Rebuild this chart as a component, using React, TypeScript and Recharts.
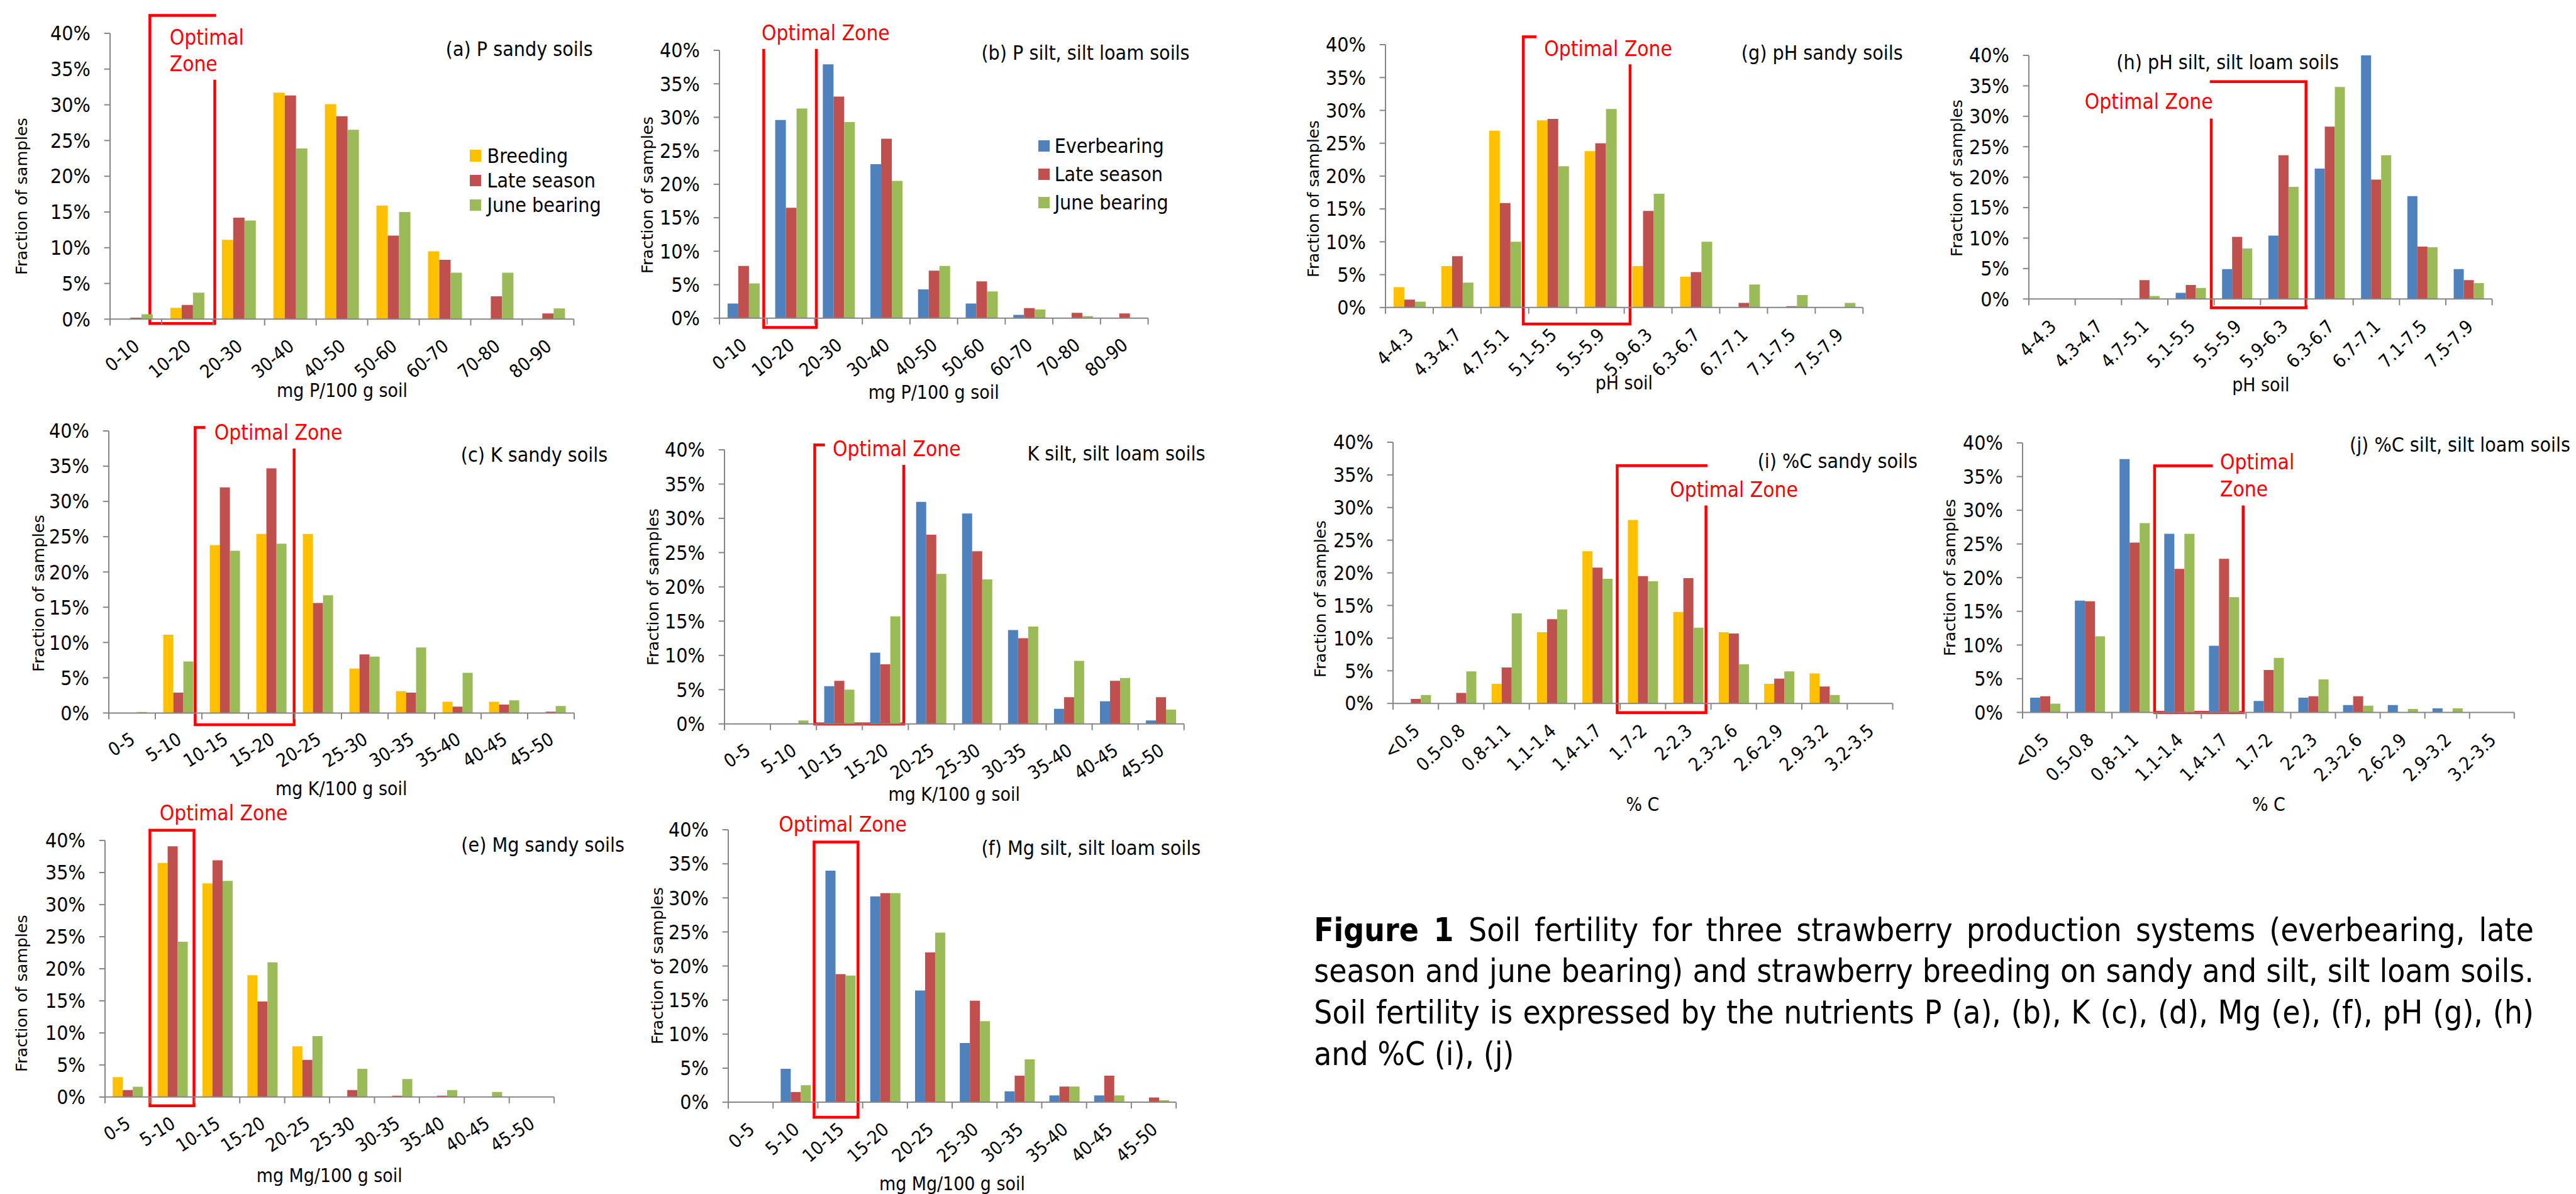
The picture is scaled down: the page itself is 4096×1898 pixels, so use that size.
import React from 'react';
import { BarChart, Bar, XAxis, YAxis, ReferenceArea, Legend } from 'recharts';

// reference is 6166 px wide, window is 4096
const k = 4096 / 6166;

const FONT = "'Liberation Sans Narrow', 'DejaVu Sans Condensed', 'Arial Narrow', sans-serif";
const LABEL_FONT = "'DejaVu Sans', Verdana, sans-serif";
const YELLOW = '#FFC000';
const RED = '#C0504D';
const GREEN = '#9BBB59';
const BLUE = '#4F81BD';
const AXIS = '#868686';
const ZONE = '#FF0000';

const yTicks = [0, 5, 10, 15, 20, 25, 30, 35, 40];
const pCats = ['0-10', '10-20', '20-30', '30-40', '40-50', '50-60', '60-70', '70-80', '80-90'];
const kCats = ['0-5', '5-10', '10-15', '15-20', '20-25', '25-30', '30-35', '35-40', '40-45', '45-50'];
const phCats = ['4-4.3', '4.3-4.7', '4.7-5.1', '5.1-5.5', '5.5-5.9', '5.9-6.3', '6.3-6.7', '6.7-7.1', '7.1-7.5', '7.5-7.9'];
const cCats = ['<0.5', '0.5-0.8', '0.8-1.1', '1.1-1.4', '1.4-1.7', '1.7-2', '2-2.3', '2.3-2.6', '2.6-2.9', '2.9-3.2', '3.2-3.5'];

// values in % of samples
const aBreeding = [0, 1.6, 11.1, 31.7, 30.1, 15.9, 9.5, 0, 0];
const aLate = [0.2, 2.0, 14.2, 31.3, 28.4, 11.7, 8.3, 3.2, 0.8];
const aJune = [0.7, 3.7, 13.8, 23.9, 26.5, 15.0, 6.5, 6.5, 1.5];

const bEver = [2.2, 29.6, 37.9, 23.0, 4.3, 2.2, 0.5, 0, 0];
const bLate = [7.8, 16.5, 33.1, 26.8, 7.1, 5.5, 1.5, 0.8, 0.7];
const bJune = [5.2, 31.3, 29.3, 20.5, 7.8, 4.0, 1.3, 0.3, 0];

const cBreeding = [0, 11.1, 23.8, 25.4, 25.4, 6.3, 3.1, 1.6, 1.6, 0];
const cLate = [0, 2.9, 32.0, 34.7, 15.6, 8.3, 2.9, 0.9, 1.2, 0.2];
const cJune = [0.15, 7.3, 23.0, 24.0, 16.7, 8.0, 9.3, 5.7, 1.8, 1.0];

const dEver = [0, 0, 5.5, 10.4, 32.4, 30.7, 13.7, 2.2, 3.3, 0.5];
const dLate = [0, 0, 6.3, 8.7, 27.6, 25.2, 12.5, 3.9, 6.3, 3.9];
const dJune = [0, 0.5, 5.0, 15.7, 21.9, 21.1, 14.2, 9.2, 6.7, 2.1];

const eBreeding = [3.1, 36.5, 33.3, 19.0, 7.9, 0, 0, 0, 0, 0];
const eLate = [1.1, 39.1, 36.9, 14.9, 5.8, 1.1, 0.2, 0.2, 0, 0];
const eJune = [1.6, 24.2, 33.7, 21.0, 9.5, 4.4, 2.8, 1.1, 0.8, 0];

const fEver = [0, 4.9, 34.0, 30.2, 16.4, 8.7, 1.6, 1.0, 1.0, 0];
const fLate = [0, 1.5, 18.8, 30.7, 22.0, 14.9, 3.9, 2.3, 3.9, 0.7];
const fJune = [0, 2.5, 18.6, 30.7, 24.9, 11.9, 6.3, 2.3, 1.0, 0.3];

const gBreeding = [3.1, 6.3, 26.9, 28.5, 23.8, 6.3, 4.7, 0, 0, 0];
const gLate = [1.2, 7.8, 15.9, 28.7, 25.0, 14.7, 5.4, 0.7, 0.2, 0];
const gJune = [0.9, 3.8, 10.0, 21.5, 30.2, 17.3, 10.0, 3.5, 1.9, 0.7];

const hEver = [0, 0, 0, 1.0, 4.9, 10.4, 21.4, 40, 16.9, 4.9];
const hLate = [0, 0, 3.1, 2.3, 10.2, 23.6, 28.3, 19.6, 8.6, 3.1];
const hJune = [0, 0, 0.5, 1.8, 8.3, 18.4, 34.8, 23.6, 8.5, 2.6];

const iBreeding = [0, 0, 3.0, 10.9, 23.3, 28.1, 14.0, 10.9, 3.0, 4.6, 0];
const iLate = [0.7, 1.6, 5.5, 12.9, 20.8, 19.5, 19.2, 10.7, 3.8, 2.6, 0];
const iJune = [1.3, 4.9, 13.8, 14.4, 19.1, 18.7, 11.6, 6.0, 4.9, 1.3, 0];

const jEver = [2.2, 16.6, 37.6, 26.5, 9.9, 1.7, 2.2, 1.1, 1.1, 0.6, 0];
const jLate = [2.4, 16.5, 25.2, 21.3, 22.8, 6.3, 2.4, 2.4, 0, 0, 0];
const jJune = [1.3, 11.3, 28.1, 26.5, 17.1, 8.1, 4.9, 1.0, 0.5, 0.6, 0];

const sandy = (b, l, j) => [
  { name: 'Breeding', color: YELLOW, values: b },
  { name: 'Late season', color: RED, values: l },
  { name: 'June bearing', color: GREEN, values: j },
];
const silt = (e, l, j) => [
  { name: 'Everbearing', color: BLUE, values: e },
  { name: 'Late season', color: RED, values: l },
  { name: 'June bearing', color: GREEN, values: j },
];

// layout numbers below are in reference pixels
const panels = [
  {
    id: 'a', plot: { x: 264, y: 80, r: 1374, b: 764 }, cats: pCats, series: sandy(aBreeding, aLate, aJune), angle: 40,
    zone: { x1: '10-20', x2: '10-20', top: 42.5, bottom: -0.6, padL: -28, padR: 4, topLen: 'full', rightFrom: 33.3 },
    opt: { lines: ['Optimal', 'Zone'], x: 406, cy: [90, 154] },
    title: { text: '(a) P sandy soils', x: 1067, cy: 118 },
    ylab: { cx: 52, cy: 470 }, xtitle: { text: 'mg P/100 g soil', cy: 935 },
    legend: { x: 1125, rows: [373, 432, 491], textX: 1166 },
  },
  {
    id: 'b', plot: { x: 1722, y: 120, r: 2748, b: 761 }, cats: pCats, series: silt(bEver, bLate, bJune), angle: 39,
    zone: { x1: '10-20', x2: '10-20', top: 40, bottom: -1.37, padL: -8, padR: 4, topLen: 0 },
    opt: { lines: ['Optimal Zone'], x: 1823, cy: [80] },
    title: { text: '(b) P silt, silt loam soils', x: 2349, cy: 126 },
    ylab: { cx: 1550, cy: 467 }, xtitle: { text: 'mg P/100 g soil', cy: 940 },
    legend: { x: 2485, rows: [349, 417, 485], textX: 2524 },
  },
  {
    id: 'g', plot: { x: 3316, y: 107, r: 4459, b: 736 }, cats: phCats, series: sandy(gBreeding, gLate, gJune), angle: 45,
    zone: { x1: '5.1-5.5', x2: '5.5-5.9', top: 41.2, bottom: -2.5, padL: -13, padR: 14, topLen: 28, rightFrom: 36.8 },
    opt: { lines: ['Optimal Zone'], x: 3696, cy: [118] },
    title: { text: '(g) pH sandy soils', x: 4168, cy: 126 },
    ylab: { cx: 3145, cy: 475 }, xtitle: { text: 'pH soil', cy: 916 },
  },
  {
    id: 'h', plot: { x: 4857, y: 133, r: 5966, b: 716 }, cats: phCats, series: silt(hEver, hLate, hJune), angle: 45,
    zone: { x1: '5.5-5.9', x2: '5.9-6.3', top: 35.7, bottom: -1.44, padL: -7, padR: -2, topLen: 'full', leftFrom: 29.4 },
    opt: { lines: ['Optimal Zone'], x: 4990, cy: [244] },
    title: { text: '(h) pH silt, silt loam soils', x: 5066, cy: 149 },
    ylab: { cx: 4685, cy: 426 }, xtitle: { text: 'pH soil', cy: 921 },
  },
  {
    id: 'c', plot: { x: 260, y: 1031, r: 1374, b: 1706 }, cats: kCats, series: sandy(cBreeding, cLate, cJune), angle: 32,
    zone: { x1: '10-15', x2: '15-20', top: 40.5, bottom: -1.66, padL: -16, padR: -2, topLen: 21, rightFrom: 37.3 },
    opt: { lines: ['Optimal Zone'], x: 513, cy: [1035] },
    title: { text: '(c) K sandy soils', x: 1103, cy: 1088 },
    ylab: { cx: 94, cy: 1420 }, xtitle: { text: 'mg K/100 g soil', cy: 1888 },
  },
  {
    id: 'd', plot: { x: 1734, y: 1077, r: 2834, b: 1733 }, cats: kCats, series: silt(dEver, dLate, dJune), angle: 34,
    zone: { x1: '10-15', x2: '15-20', top: 40.7, bottom: 0, padL: -4, padR: -11, topLen: 21, rightFrom: 37.6 },
    opt: { lines: ['Optimal Zone'], x: 1993, cy: [1075] },
    title: { text: 'K silt, silt loam soils', x: 2459, cy: 1085 },
    ylab: { cx: 1564, cy: 1404 }, xtitle: { text: 'mg K/100 g soil', cy: 1901 },
  },
  {
    id: 'i', plot: { x: 3334, y: 1058, r: 4530, b: 1683 }, cats: cCats, series: sandy(iBreeding, iLate, iJune), angle: 43,
    zone: { x1: '1.7-2', x2: '2-2.3', top: 36.4, bottom: -1.4, padL: -7, padR: -12, topLen: 'full', rightFrom: 30.1 },
    opt: { lines: ['Optimal Zone'], x: 3997, cy: [1173] },
    title: { text: '(i) %C sandy soils', x: 4207, cy: 1104 },
    ylab: { cx: 3161, cy: 1433 }, xtitle: { text: '% C', cy: 1925 },
  },
  {
    id: 'j', plot: { x: 4842, y: 1060, r: 6019, b: 1705 }, cats: cCats, series: silt(jEver, jLate, jJune), angle: 45,
    zone: { x1: '1.1-1.4', x2: '1.4-1.7', top: 36.6, bottom: 0, padL: -5, padR: -7, topLen: 136, rightFrom: 30.5 },
    opt: { lines: ['Optimal', 'Zone'], x: 5314, cy: [1107, 1171] },
    title: { text: '(j) %C silt, silt loam soils', x: 5624, cy: 1065 },
    ylab: { cx: 4668, cy: 1382 }, xtitle: { text: '% C', cy: 1925 },
  },
  {
    id: 'e', plot: { x: 251, y: 2011, r: 1326, b: 2625 }, cats: kCats, series: sandy(eBreeding, eLate, eJune), angle: 33,
    zone: { x1: '5-10', x2: '5-10', top: 41.6, bottom: -1.37, padL: 0, padR: -2, topLen: 'full' },
    opt: { lines: ['Optimal Zone'], x: 382, cy: [1947] },
    title: { text: '(e) Mg sandy soils', x: 1104, cy: 2022 },
    ylab: { cx: 52, cy: 2377 }, xtitle: { text: 'mg Mg/100 g soil', cy: 2813 },
  },
  {
    id: 'f', plot: { x: 1743, y: 1985, r: 2815, b: 2637 }, cats: kCats, series: silt(fEver, fLate, fJune), angle: 42,
    zone: { x1: '10-15', x2: '10-15', top: 38.2, bottom: -2.2, padL: -9, padR: -11, topLen: 'full' },
    opt: { lines: ['Optimal Zone'], x: 1864, cy: [1973] },
    title: { text: '(f) Mg silt, silt loam soils', x: 2349, cy: 2030 },
    ylab: { cx: 1574, cy: 2311 }, xtitle: { text: 'mg Mg/100 g soil', cy: 2833 },
  },
];

const captionLines = [
  'Soil fertility for three strawberry production systems (everbearing, late',
  'season and june bearing) and strawberry breeding on sandy and silt, silt loam soils.',
  'Soil fertility is expressed by the nutrients P (a), (b), K (c), (d), Mg (e), (f), pH (g), (h)',
  'and %C (i), (j)',
];

const TICK_FS = 48 * k;
const XTICK_FS = 44 * k;
const TEXT_FS = 48 * k;
const AXTITLE_FS = 45 * k;
const OPT_FS = 50 * k;
const YLAB_FS = 38.6 * k;

function Txt({ x, cy, size, color = '#000', family = FONT, center = false, children }: any) {
  return (
    <div
      style={{
        position: 'absolute', left: x, top: cy - size * 0.6, height: size * 1.2,
        lineHeight: `${size * 1.2}px`, fontSize: size, fontFamily: family, color,
        whiteSpace: 'nowrap', transform: center ? 'translateX(-50%)' : undefined,
      }}
    >
      {children}
    </div>
  );
}

function Panel({ cfg }: any) {
  const YW = 120, MT = 70, MR = 20, XH = 130;
  const px = cfg.plot.x * k, py = cfg.plot.y * k;
  const pw = (cfg.plot.r - cfg.plot.x) * k, ph = (cfg.plot.b - cfg.plot.y) * k;
  const chartLeft = px - YW, chartTop = py - MT;
  const width = YW + pw + MR, height = MT + ph + XH;
  const n = cfg.cats.length;
  const band = pw / n;
  const axisY = MT + ph;
  const z = cfg.zone;

  const data = cfg.cats.map((c, i) => {
    const row: any = { cat: c };
    cfg.series.forEach((s, j) => { row['s' + j] = s.values[i]; });
    return row;
  });

  const renderTick = (props: any) => {
    const { x, index, payload } = props;
    const ax = x + 2 * k, ay = axisY + 58 * k;
    return (
      <g>
        <line x1={x - band / 2} x2={x - band / 2} y1={axisY} y2={axisY + 10} stroke={AXIS} strokeWidth={2} />
        {index === n - 1 && (
          <line x1={x + band / 2} x2={x + band / 2} y1={axisY} y2={axisY + 10} stroke={AXIS} strokeWidth={2} />
        )}
        <text
          x={ax} y={ay} textAnchor="end" dominantBaseline="central"
          transform={`rotate(${-cfg.angle} ${ax} ${ay})`}
          fontSize={XTICK_FS} fontFamily={FONT} fill="#000"
        >
          {payload.value}
        </text>
      </g>
    );
  };

  const renderZone = (props: any) => {
    const { x, y, width: w, height: h } = props;
    if (x == null || y == null) return null;
    const xl = x + z.padL * k, xr = x + w + z.padR * k;
    const toY = (v) => y + ((z.top - v) / (z.top - z.bottom)) * h;
    const yb = toY(z.bottom), yt = toY(z.top);
    let d = `M${xl},${toY(z.leftFrom ?? z.top)} L${xl},${yb} L${xr},${yb} L${xr},${toY(z.rightFrom ?? z.top)}`;
    if (z.topLen === 'full') d += ` M${xl},${yt} L${xr},${yt}`;
    else if (z.topLen) d += ` M${xl},${yt} L${xl + z.topLen * k},${yt}`;
    return <path d={d} fill="none" stroke={ZONE} strokeWidth={4.5} strokeLinecap="square" />;
  };

  const lg = cfg.legend;
  const renderLegend = () => (
    <div style={{ position: 'relative', width: 320, height: 150, fontFamily: FONT, fontSize: TEXT_FS }}>
      {cfg.series.map((s, i) => {
        const cy = (lg.rows[i] - lg.rows[0]) * k + 20;
        return (
          <div key={s.name} style={{ position: 'absolute', left: 0, top: cy - 20, height: 40, display: 'flex', alignItems: 'center', whiteSpace: 'nowrap', color: '#000' }}>
            <span style={{ display: 'inline-block', width: 27 * k, height: 28 * k, background: s.color, marginRight: (lg.textX - lg.x - 27) * k }} />
            <span>{s.name}</span>
          </div>
        );
      })}
    </div>
  );

  return (
    <>
      <div style={{ position: 'absolute', left: chartLeft, top: chartTop }}>
        <BarChart
          width={width} height={height} data={data}
          margin={{ top: MT, right: MR, bottom: 0, left: 0 }}
          barCategoryGap="17%" barGap={0}
        >
          <XAxis
            dataKey="cat" interval={0} height={XH} tickLine={false}
            axisLine={{ stroke: AXIS, strokeWidth: 2 }} tick={renderTick}
          />
          <YAxis
            domain={[0, 40]} ticks={yTicks} width={YW} allowDataOverflow
            tickFormatter={(v) => `${v}%`} tickSize={14 * k} tickMargin={33 * k}
            axisLine={{ stroke: AXIS, strokeWidth: 2 }} tickLine={{ stroke: AXIS, strokeWidth: 2 }}
            tick={{ fill: '#000', fontSize: TICK_FS, fontFamily: FONT }}
          />
          {cfg.series.map((s, j) => (
            <Bar key={s.name} dataKey={'s' + j} name={s.name} fill={s.color} isAnimationActive={false} />
          ))}
          <ReferenceArea x1={z.x1} x2={z.x2} y1={z.bottom} y2={z.top} ifOverflow="visible" shape={renderZone} />
          {lg && (
            <Legend
              layout="vertical" align="center" verticalAlign="middle"
              wrapperStyle={{ left: lg.x * k - chartLeft, top: lg.rows[0] * k - chartTop - 20, width: 320, height: 150, margin: 0 }}
              content={renderLegend}
            />
          )}
        </BarChart>
      </div>
      <Txt x={cfg.title.x * k} cy={cfg.title.cy * k} size={TEXT_FS}>{cfg.title.text}</Txt>
      {cfg.opt.lines.map((t, i) => (
        <Txt key={t} x={cfg.opt.x * k} cy={cfg.opt.cy[i] * k} size={OPT_FS} color={ZONE}>{t}</Txt>
      ))}
      <Txt x={((cfg.plot.x + cfg.plot.r) / 2) * k} cy={cfg.xtitle.cy * k} size={AXTITLE_FS} center>{cfg.xtitle.text}</Txt>
      <div
        style={{
          position: 'absolute', left: cfg.ylab.cx * k, top: cfg.ylab.cy * k,
          transform: 'translate(-50%, -50%) rotate(-90deg)', fontFamily: LABEL_FONT,
          fontSize: YLAB_FS, whiteSpace: 'nowrap', color: '#000', lineHeight: 1,
        }}
      >
        Fraction of samples
      </div>
    </>
  );
}

export default function App() {
  const capLeft = 3145 * k;
  const capWidth = (6065 - 3145) * k;
  const capFs = 77 * k;
  const capLh = 99.5 * k;
  const capCy = [2226, 2325, 2424, 2523];
  return (
    <div style={{ position: 'absolute', left: 0, top: 0, width: 4096, height: 1898, background: '#fff', overflow: 'hidden' }}>
      {panels.map((p) => <Panel key={p.id} cfg={p} />)}
      {captionLines.map((line, i) => (
        <div
          key={i}
          style={{
            position: 'absolute', left: capLeft, width: capWidth, top: capCy[i] * k - capLh / 2,
            height: capLh, lineHeight: `${capLh}px`, fontSize: capFs, fontFamily: FONT, color: '#000',
            whiteSpace: 'nowrap', textAlign: 'justify', textAlignLast: i < 3 ? 'justify' : 'left',
          }}
        >
          {i === 0 && <b>Figure 1 </b>}
          {line}
        </div>
      ))}
    </div>
  );
}
